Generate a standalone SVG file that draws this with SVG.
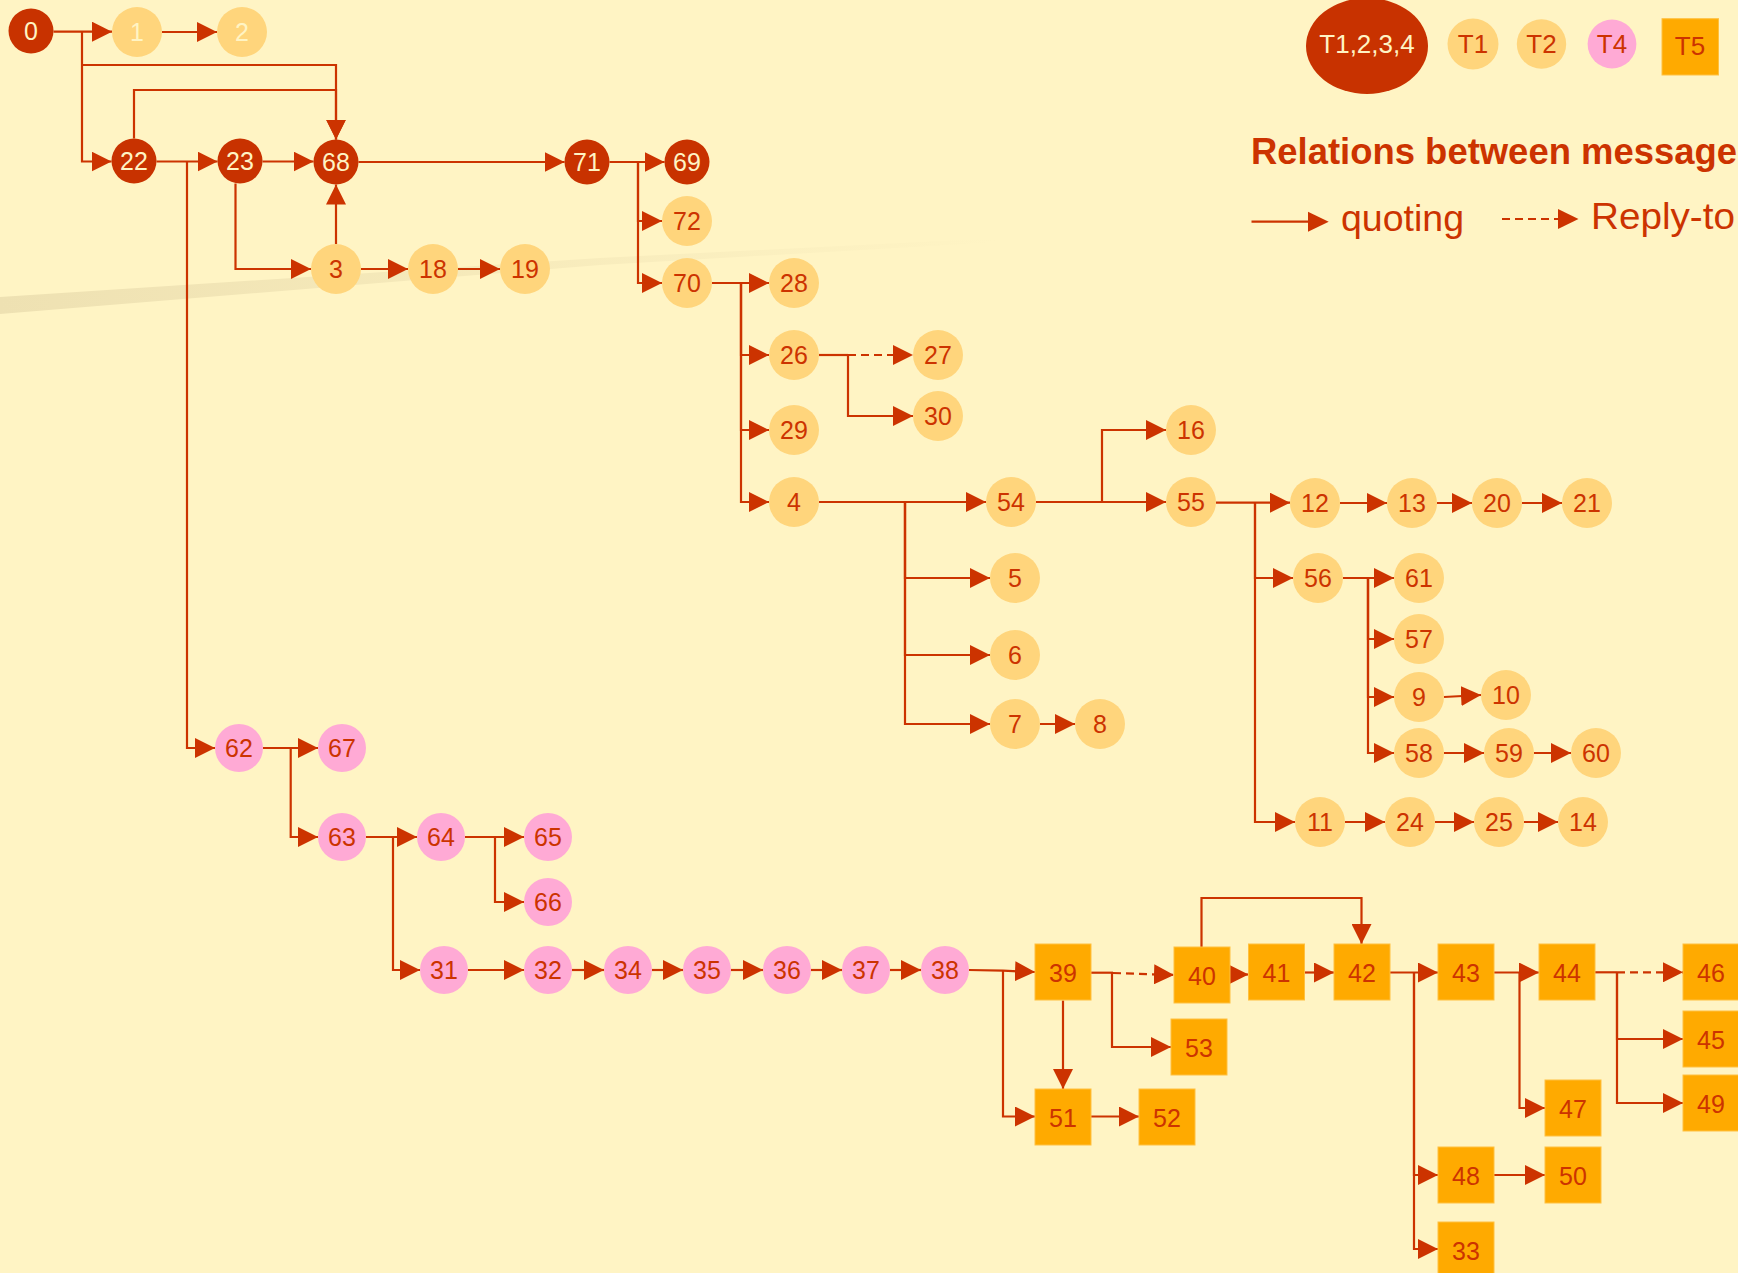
<svg xmlns="http://www.w3.org/2000/svg" width="1738" height="1273" viewBox="0 0 1738 1273">
<defs>
<style>
.e{fill:none;stroke:#CC3300;stroke-width:2.2;marker-end:url(#ah)}
.s{fill:none;stroke:#CC3300;stroke-width:2.2}
.d{fill:none;stroke:#CC3300;stroke-width:2.2;stroke-dasharray:8 5;marker-end:url(#ah)}
.dk{fill:#C83200}
.lt{fill:#FFD57C}
.pk{fill:#FFAAD5}
.bx{fill:#FFAA00;stroke:#FFC040;stroke-width:1}
text{font-family:"Liberation Sans",Arial,sans-serif;font-size:25px;text-anchor:middle;dominant-baseline:central}
.tw{fill:#FFF4C4}
.tr{fill:#CC3300}
.lg{font-family:"Liberation Sans",Arial,sans-serif;fill:#CC3300;text-anchor:start;dominant-baseline:alphabetic}
</style>
<marker id="ah" markerUnits="userSpaceOnUse" markerWidth="20" markerHeight="20" viewBox="0 0 20 20" refX="20" refY="10" orient="auto">
<path d="M0,0 L20,10 L0,20 z" fill="#CC3300"/>
</marker>
<linearGradient id="band" x1="0" y1="0" x2="1" y2="0">
<stop offset="0" stop-color="#EEE1B2" stop-opacity="1"/>
<stop offset="0.5" stop-color="#EEE1B2" stop-opacity="0.5"/>
<stop offset="1" stop-color="#EEE1B2" stop-opacity="0"/>
</linearGradient>
</defs>
<rect x="0" y="0" width="1738" height="1273" fill="#FFF4C4"/>
<path d="M0,297 L600,258 L1000,238 L1000,242 L600,265 L0,314 z" fill="url(#band)"/>

<g id="connectors">
<path class="e" d="M53.5,31.7 H112"/>
<path class="e" d="M162,32 H217"/>
<path class="e" d="M82,32 V161.5 H111.5"/>
<path class="e" d="M82,65 H336 V139.5"/>
<path class="e" d="M134,138.5 V90 H336 V139.5"/>
<path class="e" d="M156.5,161.5 H217.5"/>
<path class="e" d="M187,161.5 V748 H215"/>
<path class="e" d="M262.5,161.5 H313.5"/>
<path class="e" d="M235.5,183.5 V269 H311"/>
<path class="e" d="M336,244 V184.5"/>
<path class="e" d="M361,269 H408"/>
<path class="e" d="M458,269 H500"/>
<path class="e" d="M358.5,162 H564.5"/>
<path class="e" d="M609.5,162 H664.5"/>
<path class="e" d="M638,162 V221 H662"/>
<path class="e" d="M638,162 V283 H662"/>
<path class="e" d="M712,283 H769"/>
<path class="e" d="M741,283 V355 H769"/>
<path class="e" d="M741,283 V430 H769"/>
<path class="e" d="M741,283 V502 H769"/>
<path class="s" d="M819,355 H848"/>
<path class="d" d="M848,355 H913"/>
<path class="e" d="M848,355 V416 H913"/>
<path class="e" d="M819,502 H986"/>
<path class="e" d="M905,502 V578 H990"/>
<path class="e" d="M905,502 V655 H990"/>
<path class="e" d="M905,502 V724 H990"/>
<path class="e" d="M1040,724 H1075"/>
<path class="e" d="M1036,502 H1166"/>
<path class="e" d="M1102,502 V430 H1166"/>
<path class="e" d="M1216,502.7 H1290"/>
<path class="e" d="M1255,502.7 V578 H1293"/>
<path class="e" d="M1255,502.7 V822 H1295"/>
<path class="e" d="M1340,503 H1387"/>
<path class="e" d="M1437,503 H1472"/>
<path class="e" d="M1522,503 H1562"/>
<path class="e" d="M1343,578 H1394"/>
<path class="e" d="M1368,578 V639 H1394"/>
<path class="e" d="M1368,578 V697 H1394"/>
<path class="e" d="M1368,578 V753 H1394"/>
<path class="e" d="M1444,697 L1481,695"/>
<path class="e" d="M1444,753 H1484"/>
<path class="e" d="M1534,753 H1571"/>
<path class="e" d="M1345,822 H1385"/>
<path class="e" d="M1435,822 H1474"/>
<path class="e" d="M1524,822 H1558"/>
<path class="e" d="M263,748 H318"/>
<path class="e" d="M290.7,748 V837 H318"/>
<path class="e" d="M366,837 H417"/>
<path class="e" d="M393,837 V970 H420"/>
<path class="e" d="M465,837 H524"/>
<path class="e" d="M495,837 V902 H524"/>
<path class="e" d="M468,970 H524"/>
<path class="e" d="M572,970 H604"/>
<path class="e" d="M652,970 H683"/>
<path class="e" d="M731,970 H763"/>
<path class="e" d="M811,970 H842"/>
<path class="e" d="M890,970 H921"/>
<path class="e" d="M969,970 L1003,970.7 L1035,972"/>
<path class="e" d="M1003,970.7 V1116.5 H1035"/>
<path class="e" d="M1063,1000.5 V1089"/>
<path class="s" d="M1091,972.7 H1113"/>
<path class="d" d="M1113,973 L1174,975"/>
<path class="e" d="M1112,972.7 V1047 H1171"/>
<path class="e" d="M1229,974.5 H1248.5"/>
<path class="e" d="M1304.5,972.5 H1334"/>
<path class="e" d="M1201.5,947 V898 H1361.5 V944"/>
<path class="e" d="M1390,972.5 H1438"/>
<path class="e" d="M1414,972.5 V1175 H1438"/>
<path class="e" d="M1414,972.5 V1249 H1438"/>
<path class="e" d="M1494,972.5 H1539"/>
<path class="e" d="M1519.5,972.5 V1108 H1545"/>
<path class="s" d="M1595,972.3 H1617"/>
<path class="d" d="M1617,972.3 H1683"/>
<path class="e" d="M1617,972.3 V1039 H1683"/>
<path class="e" d="M1617,972.3 V1103 H1683"/>
<path class="e" d="M1494,1175 H1545"/>
<path class="e" d="M1091,1116.5 H1139"/>
</g>

<g id="n0"><circle class="dk" cx="31" cy="31" r="22.5"/><text class="tw" x="31" y="31">0</text></g>
<g id="n22"><circle class="dk" cx="134" cy="161" r="22.5"/><text class="tw" x="134" y="161">22</text></g>
<g id="n23"><circle class="dk" cx="240" cy="161" r="22.5"/><text class="tw" x="240" y="161">23</text></g>
<g id="n68"><circle class="dk" cx="336" cy="162" r="22.5"/><text class="tw" x="336" y="162">68</text></g>
<g id="n71"><circle class="dk" cx="587" cy="162" r="22.5"/><text class="tw" x="587" y="162">71</text></g>
<g id="n69"><circle class="dk" cx="687" cy="162" r="22.5"/><text class="tw" x="687" y="162">69</text></g>

<g id="n1"><circle class="lt" cx="137" cy="32" r="25"/><text class="tw" x="137" y="32">1</text></g>
<g id="n2"><circle class="lt" cx="242" cy="32" r="25"/><text class="tw" x="242" y="32">2</text></g>
<g id="n3"><circle class="lt" cx="336" cy="269" r="25"/><text class="tr" x="336" y="269">3</text></g>
<g id="n18"><circle class="lt" cx="433" cy="269" r="25"/><text class="tr" x="433" y="269">18</text></g>
<g id="n19"><circle class="lt" cx="525" cy="269" r="25"/><text class="tr" x="525" y="269">19</text></g>
<g id="n72"><circle class="lt" cx="687" cy="221" r="25"/><text class="tr" x="687" y="221">72</text></g>
<g id="n70"><circle class="lt" cx="687" cy="283" r="25"/><text class="tr" x="687" y="283">70</text></g>
<g id="n28"><circle class="lt" cx="794" cy="283" r="25"/><text class="tr" x="794" y="283">28</text></g>
<g id="n26"><circle class="lt" cx="794" cy="355" r="25"/><text class="tr" x="794" y="355">26</text></g>
<g id="n27"><circle class="lt" cx="938" cy="355" r="25"/><text class="tr" x="938" y="355">27</text></g>
<g id="n30"><circle class="lt" cx="938" cy="416" r="25"/><text class="tr" x="938" y="416">30</text></g>
<g id="n29"><circle class="lt" cx="794" cy="430" r="25"/><text class="tr" x="794" y="430">29</text></g>
<g id="n4"><circle class="lt" cx="794" cy="502" r="25"/><text class="tr" x="794" y="502">4</text></g>
<g id="n54"><circle class="lt" cx="1011" cy="502" r="25"/><text class="tr" x="1011" y="502">54</text></g>
<g id="n16"><circle class="lt" cx="1191" cy="430" r="25"/><text class="tr" x="1191" y="430">16</text></g>
<g id="n55"><circle class="lt" cx="1191" cy="502" r="25"/><text class="tr" x="1191" y="502">55</text></g>
<g id="n5"><circle class="lt" cx="1015" cy="578" r="25"/><text class="tr" x="1015" y="578">5</text></g>
<g id="n6"><circle class="lt" cx="1015" cy="655" r="25"/><text class="tr" x="1015" y="655">6</text></g>
<g id="n7"><circle class="lt" cx="1015" cy="724" r="25"/><text class="tr" x="1015" y="724">7</text></g>
<g id="n8"><circle class="lt" cx="1100" cy="724" r="25"/><text class="tr" x="1100" y="724">8</text></g>
<g id="n12"><circle class="lt" cx="1315" cy="503" r="25"/><text class="tr" x="1315" y="503">12</text></g>
<g id="n13"><circle class="lt" cx="1412" cy="503" r="25"/><text class="tr" x="1412" y="503">13</text></g>
<g id="n20"><circle class="lt" cx="1497" cy="503" r="25"/><text class="tr" x="1497" y="503">20</text></g>
<g id="n21"><circle class="lt" cx="1587" cy="503" r="25"/><text class="tr" x="1587" y="503">21</text></g>
<g id="n56"><circle class="lt" cx="1318" cy="578" r="25"/><text class="tr" x="1318" y="578">56</text></g>
<g id="n61"><circle class="lt" cx="1419" cy="578" r="25"/><text class="tr" x="1419" y="578">61</text></g>
<g id="n57"><circle class="lt" cx="1419" cy="639" r="25"/><text class="tr" x="1419" y="639">57</text></g>
<g id="n9"><circle class="lt" cx="1419" cy="697" r="25"/><text class="tr" x="1419" y="697">9</text></g>
<g id="n10"><circle class="lt" cx="1506" cy="695" r="25"/><text class="tr" x="1506" y="695">10</text></g>
<g id="n58"><circle class="lt" cx="1419" cy="753" r="25"/><text class="tr" x="1419" y="753">58</text></g>
<g id="n59"><circle class="lt" cx="1509" cy="753" r="25"/><text class="tr" x="1509" y="753">59</text></g>
<g id="n60"><circle class="lt" cx="1596" cy="753" r="25"/><text class="tr" x="1596" y="753">60</text></g>
<g id="n11"><circle class="lt" cx="1320" cy="822" r="25"/><text class="tr" x="1320" y="822">11</text></g>
<g id="n24"><circle class="lt" cx="1410" cy="822" r="25"/><text class="tr" x="1410" y="822">24</text></g>
<g id="n25"><circle class="lt" cx="1499" cy="822" r="25"/><text class="tr" x="1499" y="822">25</text></g>
<g id="n14"><circle class="lt" cx="1583" cy="822" r="25"/><text class="tr" x="1583" y="822">14</text></g>

<g id="n62"><circle class="pk" cx="239" cy="748" r="24"/><text class="tr" x="239" y="748">62</text></g>
<g id="n67"><circle class="pk" cx="342" cy="748" r="24"/><text class="tr" x="342" y="748">67</text></g>
<g id="n63"><circle class="pk" cx="342" cy="837" r="24"/><text class="tr" x="342" y="837">63</text></g>
<g id="n64"><circle class="pk" cx="441" cy="837" r="24"/><text class="tr" x="441" y="837">64</text></g>
<g id="n65"><circle class="pk" cx="548" cy="837" r="24"/><text class="tr" x="548" y="837">65</text></g>
<g id="n66"><circle class="pk" cx="548" cy="902" r="24"/><text class="tr" x="548" y="902">66</text></g>
<g id="n31"><circle class="pk" cx="444" cy="970" r="24"/><text class="tr" x="444" y="970">31</text></g>
<g id="n32"><circle class="pk" cx="548" cy="970" r="24"/><text class="tr" x="548" y="970">32</text></g>
<g id="n34"><circle class="pk" cx="628" cy="970" r="24"/><text class="tr" x="628" y="970">34</text></g>
<g id="n35"><circle class="pk" cx="707" cy="970" r="24"/><text class="tr" x="707" y="970">35</text></g>
<g id="n36"><circle class="pk" cx="787" cy="970" r="24"/><text class="tr" x="787" y="970">36</text></g>
<g id="n37"><circle class="pk" cx="866" cy="970" r="24"/><text class="tr" x="866" y="970">37</text></g>
<g id="n38"><circle class="pk" cx="945" cy="970" r="24"/><text class="tr" x="945" y="970">38</text></g>

<g id="n39"><rect class="bx" x="1035" y="944" width="56" height="56"/><text class="tr" x="1063" y="973">39</text></g>
<g id="n40"><rect class="bx" x="1174" y="947" width="56" height="56"/><text class="tr" x="1202" y="976">40</text></g>
<g id="n41"><rect class="bx" x="1248.5" y="944" width="56" height="56"/><text class="tr" x="1276.5" y="973">41</text></g>
<g id="n42"><rect class="bx" x="1334" y="944" width="56" height="56"/><text class="tr" x="1362" y="973">42</text></g>
<g id="n43"><rect class="bx" x="1438" y="944" width="56" height="56"/><text class="tr" x="1466" y="973">43</text></g>
<g id="n44"><rect class="bx" x="1539" y="944" width="56" height="56"/><text class="tr" x="1567" y="973">44</text></g>
<g id="n46"><rect class="bx" x="1683" y="944" width="56" height="56"/><text class="tr" x="1711" y="973">46</text></g>
<g id="n45"><rect class="bx" x="1683" y="1011" width="56" height="56"/><text class="tr" x="1711" y="1040">45</text></g>
<g id="n49"><rect class="bx" x="1683" y="1075" width="56" height="56"/><text class="tr" x="1711" y="1104">49</text></g>
<g id="n53"><rect class="bx" x="1171" y="1019" width="56" height="56"/><text class="tr" x="1199" y="1048">53</text></g>
<g id="n51"><rect class="bx" x="1035" y="1089" width="56" height="56"/><text class="tr" x="1063" y="1118">51</text></g>
<g id="n52"><rect class="bx" x="1139" y="1089" width="56" height="56"/><text class="tr" x="1167" y="1118">52</text></g>
<g id="n47"><rect class="bx" x="1545" y="1080" width="56" height="56"/><text class="tr" x="1573" y="1109">47</text></g>
<g id="n48"><rect class="bx" x="1438" y="1147" width="56" height="56"/><text class="tr" x="1466" y="1176">48</text></g>
<g id="n50"><rect class="bx" x="1545" y="1147" width="56" height="56"/><text class="tr" x="1573" y="1176">50</text></g>
<g id="n33"><rect class="bx" x="1438" y="1222" width="56" height="56"/><text class="tr" x="1466" y="1251">33</text></g>

<g id="legend">
<ellipse class="dk" cx="1367" cy="46" rx="61" ry="48"/>
<text class="tw" x="1367" y="44" style="font-size:26px">T1,2,3,4</text>
<circle class="lt" cx="1473" cy="44" r="25.5"/>
<text class="tr" x="1473" y="44" style="font-size:26px">T1</text>
<circle class="lt" cx="1541.5" cy="44" r="24.7"/>
<text class="tr" x="1541.5" y="44" style="font-size:26px">T2</text>
<circle class="pk" cx="1612" cy="44" r="24.4"/>
<text class="tr" x="1612" y="44" style="font-size:26px">T4</text>
<rect class="bx" x="1662" y="18.7" width="56.5" height="56.3"/>
<text class="tr" x="1690" y="46" style="font-size:26px">T5</text>
<text class="lg" x="1251" y="164" style="font-size:36px;font-weight:bold" textLength="486" lengthAdjust="spacingAndGlyphs">Relations between message</text>
<path class="s" d="M1251.5,221.7 H1310"/>
<path d="M1308,211.7 L1328.7,221.7 L1308,231.7 z" fill="#CC3300"/>
<text class="lg" x="1341" y="231" style="font-size:36px" textLength="123" lengthAdjust="spacingAndGlyphs">quoting</text>
<path class="s" d="M1502,219 H1560" style="stroke-dasharray:8 5"/>
<path d="M1558,209 L1578.5,219 L1558,229 z" fill="#CC3300"/>
<text class="lg" x="1591" y="229" style="font-size:37px" textLength="144" lengthAdjust="spacingAndGlyphs">Reply-to</text>
</g>
</svg>
